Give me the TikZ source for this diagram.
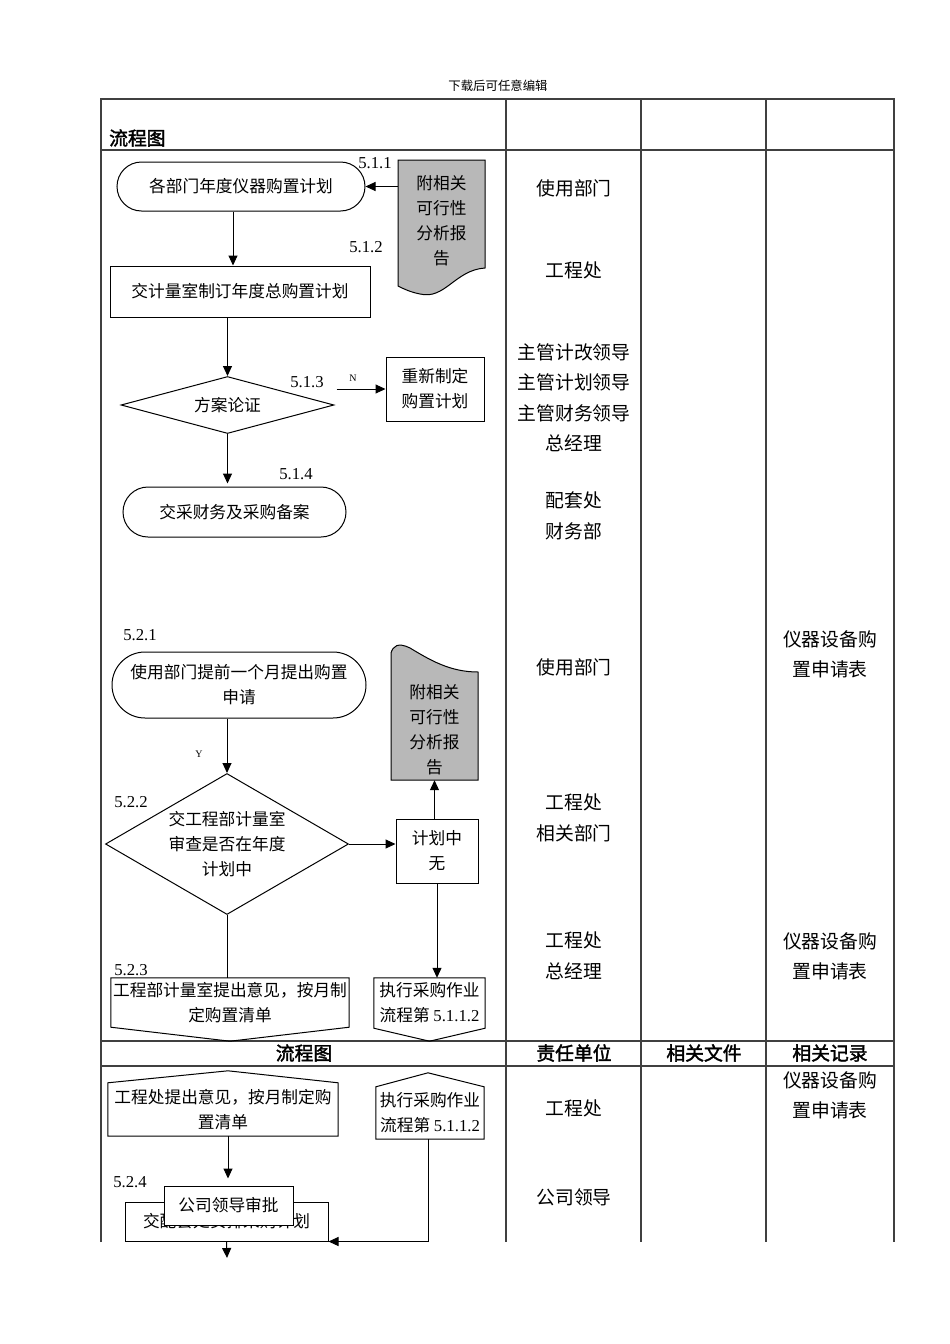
\documentclass[tikz,border=0pt]{standalone}
\usepackage{fontspec}
\setmainfont{Liberation Serif}
\newfontfamily\cjk{Noto Sans CJK SC}[AutoFakeBold=2]
\usetikzlibrary{shapes.geometric,shapes.misc,arrows.meta}

\tikzset{
  flow/.style={draw, line width=1pt, inner sep=0pt, align=center, font=\cjk\fontsize{16.7}{25}\selectfont},
  term/.style={flow, rounded rectangle},
  proc/.style={flow, rectangle},
  decide/.style={flow, diamond},
  txt/.style={inner sep=0pt, align=center, font=\cjk\fontsize{16.7}{25}\selectfont},
  duty/.style={inner sep=0pt, align=center, font=\cjk\fontsize{18.8}{30.5}\selectfont},
  head/.style={inner sep=0pt, font=\cjk\bfseries\fontsize{18.8}{22}\selectfont},
  num/.style={inner sep=0pt, font=\fontsize{16.7}{20}\selectfont},
  tag/.style={inner sep=0pt, font=\fontsize{10}{12}\selectfont},
  flowarrow/.style={line width=1pt, -{Triangle[length=10pt,width=9pt]}},
  link/.style={line width=1pt},
  tabline/.style={line width=1.1pt, black!75},
  paper/.style={fill=black!28, draw, line width=1pt},
}

\begin{document}
\begin{tikzpicture}[x=1pt,y=-1pt]
  \useasboundingbox (0,0) rectangle (950,1344);

  % table
  \draw[tabline] (101,1242) -- (101,99) -- (894,99) -- (894,1242);
  \foreach \x in {506,641,766} \draw[tabline] (\x,99) -- (\x,1242);
  \foreach \y in {150,1041,1066} \draw[tabline] (101,\y) -- (894,\y);

  \node[inner sep=0pt, font=\cjk\fontsize{12.4}{14}\selectfont] (note) at (498,86) {下载后可任意编辑};
  \node[head, anchor=west] (hd1) at (109,138) {流程图};
  \node[head] (hd2) at (304,1053) {流程图};
  \node[head] (hd3) at (574,1053) {责任单位};
  \node[head] (hd4) at (704,1053) {相关文件};
  \node[head] (hd5) at (830,1053) {相关记录};

  % 5.1
  \draw[paper] (398,160) -- (485,160) -- (485,268) .. controls (455,270) and (445,300) .. (420,294) .. controls (410,292) and (404,289) .. (398,286) -- cycle;
  \node[txt, minimum width=87, minimum height=126] (rep1) at (441.5,221) {附相关\\可行性\\分析报\\告};
  \node[term, minimum width=248, minimum height=49] (plan1) at (241,186.5) {各部门年度仪器购置计划};
  \node[proc, minimum width=260, minimum height=51] (plan2) at (240,291.5) {交计量室制订年度总购置计划};
  \node[decide, aspect=3.7, minimum width=213, minimum height=57] (chk1) at (227.5,405) {方案论证};
  \node[proc, minimum width=98, minimum height=64] (redo) at (435,389) {重新制定\\购置计划};
  \node[term, minimum width=223, minimum height=50] (fin1) at (234.5,512) {交采财务及采购备案};
  \node[num] (n511) at (375,163) {5.1.1};
  \node[num] (n512) at (366,247) {5.1.2};
  \node[num] (n513) at (307,382) {5.1.3};
  \node[tag] (lbN) at (353,378) {N};
  \node[num] (n514) at (296,474) {5.1.4};

  \draw[flowarrow] (rep1.west |- plan1.east) -- (plan1.east);
  \draw[flowarrow] ([xshift=-8pt]plan1.south) -- ([xshift=-8pt]plan1.south |- plan2.north);
  \draw[flowarrow] (chk1.north |- plan2.south) -- (chk1.north);
  \draw[flowarrow] ([xshift=2pt]chk1.east |- redo.west) -- (redo.west);
  \draw[flowarrow, shorten >=3pt] (chk1.south) -- (chk1.south |- fin1.north);

  % duties and records
  \node[duty] (d1) at (574,188) {使用部门};
  \node[duty] (d2) at (574,270) {工程处};
  \node[duty] (d3) at (574,397.5) {主管计改领导\\主管计划领导\\主管财务领导\\总经理};
  \node[duty] (d4) at (574,516) {配套处\\财务部};
  \node[duty] (d5) at (574,667) {使用部门};
  \node[duty] (d6) at (574,818) {工程处\\相关部门};
  \node[duty] (d7) at (574,956) {工程处\\总经理};
  \node[duty] (d8) at (574,1108) {工程处};
  \node[duty] (d9) at (574,1197) {公司领导};
  \node[duty] (r1) at (830,654.5) {仪器设备购\\置申请表};
  \node[duty] (r2) at (830,956.5) {仪器设备购\\置申请表};
  \node[duty] (r3) at (830,1095.5) {仪器设备购\\置申请表};

  % 5.2
  \node[num] (n521) at (140,635) {5.2.1};
  \node[term, minimum width=254, minimum height=66] (req) at (239,685) {使用部门提前一个月提出购置\\申请};
  \node[decide, aspect=1.72, minimum width=243, minimum height=141] (chk2) at (227,844) {交工程部计量室\\审查是否在年度\\计划中};
  \node[num] (n522) at (131,802) {5.2.2};
  \node[tag] (lbY) at (199,754) {Y};
  \node[proc, minimum width=82, minimum height=64] (none) at (437,851) {计划中\\无};
  \draw[paper] (391,780) -- (391,653) .. controls (393,646) and (398,642) .. (410,648) .. controls (430,660) and (450,672) .. (478,672) -- (478,780) -- cycle;
  \node[txt, minimum width=87, minimum height=100] (rep2) at (434.5,730) {附相关\\可行性\\分析报\\告};
  \node[txt, minimum width=238, minimum height=49] (opn1) at (230,1002.5) {工程部计量室提出意见，按月制\\定购置清单};
  \draw[link] (opn1.north west) -- (opn1.north east) -- (opn1.south east) -- ([yshift=-14pt]opn1.south) -- (opn1.south west) -- cycle;
  \node[txt, minimum width=111, minimum height=50] (opn2) at (429.5,1003) {执行采购作业\\流程第 {\rmfamily 5.1.1.2}};
  \draw[link] (opn2.north west) -- (opn2.north east) -- (opn2.south east) -- ([yshift=-13pt]opn2.south) -- (opn2.south west) -- cycle;
  \node[num] (n523) at (131,970) {5.2.3};

  \draw[flowarrow] (chk2.north |- req.south) -- (chk2.north);
  \draw[flowarrow] (chk2.east) -- (chk2.east -| none.west);
  \draw[flowarrow] (rep2.south |- none.north) -- (rep2.south);
  \draw[link] (chk2.south) -- (chk2.south |- opn1.north);
  \draw[flowarrow] (none.south) -- (none.south |- opn2.north);

  % after the page break
  \node[txt, minimum width=230, minimum height=53] (opn3) at (223,1109.5) {工程处提出意见，按月制定购\\置清单};
  \draw[link] (opn3.south west) -- (opn3.north west) -- ([xshift=5pt,yshift=12pt]opn3.north) -- (opn3.north east) -- (opn3.south east) -- cycle;
  \node[txt, minimum width=108, minimum height=52] (opn4) at (430,1113) {执行采购作业\\流程第 {\rmfamily 5.1.1.2}};
  \draw[link] (opn4.south west) -- (opn4.north west) -- ([xshift=-2pt,yshift=14pt]opn4.north) -- (opn4.north east) -- (opn4.south east) -- cycle;
  \node[proc, minimum width=203, minimum height=39] (arr) at (226.5,1221.5) {交配套处安排采购计划};
  \node[proc, fill=white, minimum width=129, minimum height=39] (approve) at (228.5,1205.5) {公司领导审批};
  \node[num] (n524) at (130,1182) {5.2.4};
  \coordinate (next) at (227,1258);

  \draw[flowarrow, shorten >=7pt] ([xshift=5pt]opn3.south) -- ([xshift=5pt]opn3.south |- approve.north);
  \draw[flowarrow] ([xshift=-2pt]opn4.south) |- (arr.south east);
  \draw[flowarrow] (arr.south) -- (next);
\end{tikzpicture}
\end{document}
